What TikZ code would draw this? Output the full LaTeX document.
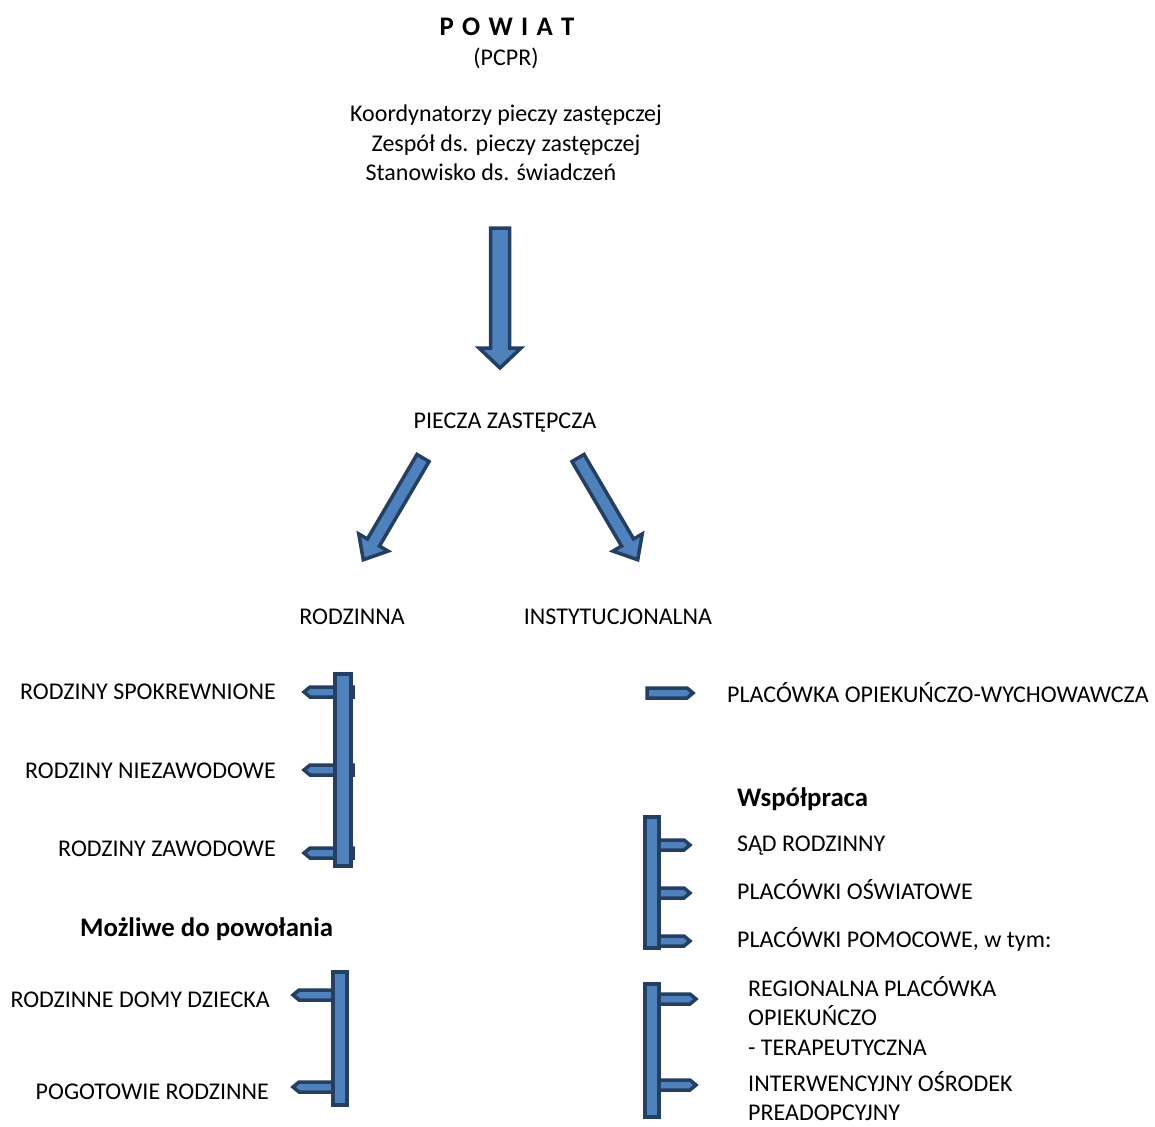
\documentclass[tikz,border=0pt]{standalone}
\usepackage{fontspec}
\setmainfont{Carlito}
\definecolor{fil}{HTML}{4F81BD}
\definecolor{bdr}{HTML}{243F60}
\newcommand\fs{\fontsize{24}{28}\selectfont}
\newcommand\fsb{\fontsize{26.8}{30}\selectfont\bfseries}
\newcommand\gp{\hspace{8.3pt}}
\tikzset{
  ba/.style={draw=bdr, fill=fil, line width=3.5pt, line join=miter},
  txt/.style={inner sep=0pt, font=\fs},
  txtb/.style={inner sep=0pt, font=\fsb},
}
% \barrow{x}{y}{canvas angle}{length}{half shaft}{half head}{head length}
\newcommand\barrow[7]{%
  \draw[ba, shift={(#1,#2)}, rotate=#3]
    (0,-#5) -- (#4-#7,-#5) -- (#4-#7,-#6) -- (#4,0) -- (#4-#7,#6) -- (#4-#7,#5) -- (0,#5) -- cycle;}
\begin{document}
\begin{tikzpicture}[x=1pt,y=-1pt]
\useasboundingbox (0,0) rectangle (1155,1126);
% top texts
\node[txtb, anchor=base] (powiat) at (507,36) {P\gp O\gp W\gp I\gp A\gp T};
\node[txt, anchor=base] (pcpr) at (506,66) {(PCPR)};
\node[txt, anchor=base] (k1) at (506,122) {Koordynatorzy pieczy zastępczej};
\node[txt, anchor=base] (k2) at (506,152) {Zespół ds. pieczy zastępczej};
\node[txt, anchor=base] (k3) at (491,181) {Stanowisko ds. świadczeń};
% main arrow
\barrow{500}{228}{-90}{140}{9.5}{21}{20}
\node[txt, anchor=base] (piecza) at (505,428) {PIECZA ZASTĘPCZA};
% diagonal arrows
\barrow{423}{458}{-120.4}{118}{7}{17}{20}
\barrow{578}{458}{-59.6}{118}{7}{17}{20}
\node[txt, anchor=base] (rodz) at (352,624) {RODZINNA};
\node[txt, anchor=base] (inst) at (618,624) {INSTYTUCJONALNA};
% left group 1
\barrow{353}{692}{180}{49}{5}{5}{6}
\barrow{353}{770}{180}{49}{5}{5}{6}
\barrow{353}{853}{180}{49}{5}{5}{6}
\draw[ba] (335,674) rectangle (351,866);
\node[txt, anchor=base east] (r1) at (276,699) {RODZINY SPOKREWNIONE};
\node[txt, anchor=base east] (r2) at (276,778) {RODZINY NIEZAWODOWE};
\node[txt, anchor=base east] (r3) at (276,856) {RODZINY ZAWODOWE};
\node[txtb, anchor=base west] (mozl) at (80,936) {Możliwe do powołania};
% left group 2
\barrow{340}{995}{180}{47}{5}{5}{6}
\barrow{340}{1087}{180}{47}{5}{5}{6}
\draw[ba] (333,972) rectangle (347,1105);
\node[txt, anchor=base east] (r4) at (270,1007) {RODZINNE DOMY DZIECKA};
\node[txt, anchor=base east] (r5) at (269,1099) {POGOTOWIE RODZINNE};
% right
\barrow{647}{693}{0}{46}{5}{5}{6}
\node[txt, anchor=base west] (plac) at (727,702) {PLACÓWKA OPIEKUŃCZO-WYCHOWAWCZA};
\node[txtb, anchor=base west] (wsp) at (737,806) {Współpraca};
% right group 2
\barrow{652}{845}{0}{38}{5}{5}{6}
\barrow{652}{893}{0}{38}{5}{5}{6}
\barrow{652}{941}{0}{38}{5}{5}{6}
\draw[ba] (645,817) rectangle (659,948);
\node[txt, anchor=base west] (s1) at (737,851) {SĄD RODZINNY};
\node[txt, anchor=base west] (s2) at (737,899) {PLACÓWKI OŚWIATOWE};
\node[txt, anchor=base west] (s3) at (737,947) {PLACÓWKI POMOCOWE, w tym:};
% right group 3
\barrow{652}{999}{0}{44}{5}{5}{6}
\barrow{652}{1085}{0}{44}{5}{5}{6}
\draw[ba] (645,984) rectangle (659,1117);
\node[txt, anchor=base west] (t1) at (748,996) {REGIONALNA PLACÓWKA};
\node[txt, anchor=base west] (t2) at (748,1025) {OPIEKUŃCZO};
\node[txt, anchor=base west] (t3) at (748,1055) {- TERAPEUTYCZNA};
\node[txt, anchor=base west] (t4) at (748,1091) {INTERWENCYJNY OŚRODEK};
\node[txt, anchor=base west] (t5) at (748,1120) {PREADOPCYJNY};
\end{tikzpicture}
\end{document}
